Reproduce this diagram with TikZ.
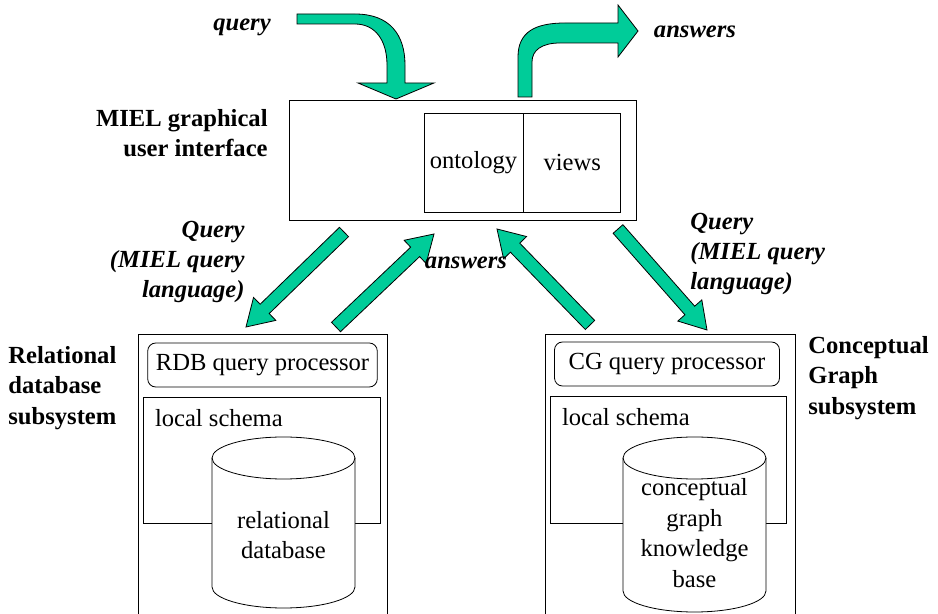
\documentclass[tikz,border=0pt]{standalone}
\usepackage{fontspec}
\setmainfont{Liberation Serif}
\usetikzlibrary{calc, positioning}

\definecolor{arrowgreen}{RGB}{0,204,153}

% straight block arrow from #1 to #2
\newcommand{\fatarrow}[2]{%
    \path ($(#2)!13pt!(#1)$) coordinate (hb);
    \draw[fat] ($(#1)!3.25pt!90:(#2)$) -- ($(hb)!3.25pt!-90:(#1)$) -- ($(hb)!8pt!-90:(#1)$) -- (#2)
        -- ($(hb)!8pt!90:(#1)$) -- ($(hb)!3.25pt!90:(#1)$) -- ($(#1)!3.25pt!-90:(#2)$) -- cycle;
}

\begin{document}
\fontsize{12.3}{15.2}\selectfont
\begin{tikzpicture}[x=0.5pt, y=-0.5pt]
        \tikzstyle{box} = [rectangle, draw=black, text centered, inner sep=1pt]
        \tikzstyle{proc} = [rectangle, rounded corners=4pt, draw=black, minimum width=112.5pt, minimum height=22pt, text centered]
        \tikzstyle{fat} = [draw=black, fill=arrowgreen, line join=miter]
        \tikzstyle{tag} = [font=\bfseries\itshape, inner sep=0pt]
        \tikzstyle{subsys} = [font=\bfseries, align=left, inner sep=0pt]

        \useasboundingbox (0,0) rectangle (938,614);

        %user interface
        \node[box, minimum width=173.5pt, minimum height=60pt] (gui) at (462.5,160) {};
        \node[box, minimum width=49.5pt, minimum height=49.5pt] (ontology) at (473.5,162.5) {ontology};
        \node[box, minimum width=48.5pt, minimum height=49.5pt, right=0pt of ontology] (views) {views};
        \node[font=\bfseries, align=right, anchor=east, inner sep=0pt] (guiLabel) at (268,133) {MIEL graphical\\user interface};

        %relational subsystem
        \draw (138,614) -- (138,334) -- (387,334) -- (387,614);
        \node[proc] (rdbProc) at (262.5,365) {RDB query processor};
        \node[box, minimum width=118.5pt, minimum height=63pt] (rdbSchema) at (261.5,460) {};
        \node[anchor=north west, inner sep=0pt] (rdbSchemaName) at ([xshift=6pt, yshift=-6pt]rdbSchema.north west) {local schema};
        \draw[fill=white] (212,458) -- (212,587) arc[start angle=180, end angle=0, x radius=71.5, y radius=21]
            -- (355,458) arc[start angle=0, end angle=-180, x radius=71.5, y radius=21] -- cycle;
        \draw (212,458) arc[start angle=180, end angle=0, x radius=71.5, y radius=21];
        \node[align=center, inner sep=0pt] (rdb) at (283.5,535) {relational\\database};
        \node[subsys, anchor=west] (rdbLabel) at (8,388) {Relational\\database\\subsystem};

        %conceptual graph subsystem
        \draw (545,614) -- (545,334) -- (795,334) -- (795,614);
        \node[proc] (cgProc) at (667,364) {CG query processor};
        \node[box, minimum width=118pt, minimum height=63.5pt] (cgSchema) at (668,459.5) {};
        \node[anchor=north west, inner sep=0pt] (cgSchemaName) at ([xshift=6pt, yshift=-6pt]cgSchema.north west) {local schema};
        \draw[fill=white] (623,458) -- (623,591) arc[start angle=180, end angle=0, x radius=71.5, y radius=21]
            -- (766,458) arc[start angle=0, end angle=-180, x radius=71.5, y radius=21] -- cycle;
        \draw (623,458) arc[start angle=180, end angle=0, x radius=71.5, y radius=21];
        \node[align=center, inner sep=0pt] (cgkb) at (694.5,533) {conceptual\\graph\\knowledge\\base};
        \node[subsys, anchor=west] (cgLabel) at (808,378) {Conceptual\\Graph\\subsystem};

        %query in, answers out
        \draw[fat] (297,14) -- (355,14) .. controls (390,14) and (405,35) .. (405,65) -- (405,83) -- (434,83) -- (396,99)
            -- (358,83) -- (387,83) -- (387,65) .. controls (387,40) and (375,24) .. (355,24) -- (297,24) -- cycle;
        \draw[fat] (518,97) -- (518,57) .. controls (518,32) and (535,23) .. (565,23) -- (618,23) -- (618,5) -- (638,31)
            -- (618,57) -- (618,43) -- (560,43) .. controls (542,43) and (532,50) .. (532,62) -- (532,97) -- cycle;
        \node[tag] (query) at (242,27) {query};
        \node[tag] (answers) at (695,32) {answers};

        %gui - relational subsystem
        \coordinate (rdbQueryTail) at (344,232);
        \coordinate (rdbQueryTip) at (246,327);
        \coordinate (rdbAnswerTail) at (336,327);
        \coordinate (rdbAnswerTip) at (434,234);
        \fatarrow{rdbQueryTail}{rdbQueryTip}
        \fatarrow{rdbAnswerTail}{rdbAnswerTip}
        \node[tag, align=right, anchor=east] (rdbQuery) at (245,262) {Query\\(MIEL query\\language)};

        %gui - conceptual graph subsystem
        \coordinate (cgAnswerTail) at (590,325);
        \coordinate (cgAnswerTip) at (497,229);
        \coordinate (cgQueryTail) at (618,229);
        \coordinate (cgQueryTip) at (707,330);
        \fatarrow{cgAnswerTail}{cgAnswerTip}
        \fatarrow{cgQueryTail}{cgQueryTip}
        \node[tag, align=left, anchor=west] (cgQuery) at (690,254) {Query\\(MIEL query\\language)};

        \node[tag] (subAnswers) at (466,263) {answers};
    \end{tikzpicture}
\end{document}
